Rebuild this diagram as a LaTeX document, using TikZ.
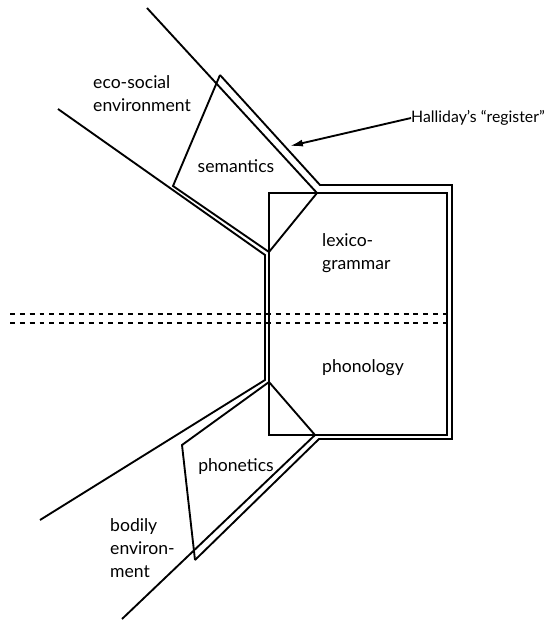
\documentclass[tikz,border=0pt]{standalone}
\usepackage{fontspec}
\setmainfont{Lato}
\usetikzlibrary{arrows.meta}
\begin{document}
\begin{tikzpicture}[x=0.03cm,y=-0.03cm, line join=miter,
  ln/.style={line width=1.6pt},
  thinln/.style={line width=1.1pt},
  dsh/.style={line width=1.7pt, dash pattern=on 4.2pt off 4.2pt},
  lbl/.style={font=\fontsize{15}{19.5}\selectfont, inner sep=0pt, align=left}]
\useasboundingbox (0,0) rectangle (549,621);
% key points
\coordinate (s1) at (147,8);
\coordinate (sR) at (317,193);
\coordinate (sT) at (220,75);
\coordinate (oTL) at (320,185);
\coordinate (oTR) at (452,185);
\coordinate (oBR) at (452,439);
\coordinate (oBL) at (319,439);
\coordinate (pB) at (195,560);
\coordinate (sL) at (173,186);
\coordinate (s2) at (58,109);
\coordinate (vT) at (265,255);
\coordinate (vB) at (265,380);
\coordinate (p1) at (40,520);
\coordinate (pT) at (182,445);
\coordinate (p2) at (122,619);
\coordinate (rTL) at (269,193);
\coordinate (rBR) at (447,435);
\coordinate (rL1) at (269,252);
\coordinate (rL2) at (269,382);
\coordinate (rB1) at (315,435);
\coordinate (d1a) at (10,314);
\coordinate (d1b) at (447,314);
\coordinate (d2a) at (10,323);
\coordinate (d2b) at (447,323);
\coordinate (tip) at (290,146);
% lines
\draw[ln] (s1) -- (sR);
\draw[ln] (sT) -- (oTL) -- (oTR) -- (oBR) -- (oBL) -- (pB);
\draw[ln] (sT) -- (sL) -- (rL1);
\draw[ln] (sR) -- (rL1);
\draw[ln] (s2) -- (vT) -- (vB) -- (p1);
\draw[ln] (pB) -- (pT) -- (rL2) -- (rB1);
\draw[ln] (p2) -- (rB1);
\draw[thinln] (rTL) rectangle (rBR);
\draw[dsh] (d1a) -- (d1b);
\draw[dsh] (d2a) -- (d2b);
% labels
\node[lbl, anchor=west] (eco) at (93,94) {eco-social\\environment};
\node[lbl] (sem) at (236,166) {semantics};
\node[lbl, anchor=west] (lex) at (322,253.5) {lexico-\\grammar};
\node[lbl, anchor=west] (pho) at (322,368) {phonology};
\node[lbl] (phn) at (236,467) {phonetics};
\node[lbl, anchor=west] (bod) at (110,548) {bodily\\environ-\\ment};
\node[lbl, anchor=west, font=\fontsize{13.5}{16}\selectfont] (hal) at (411,118) {Halliday’s “register”};
\draw[ln, -{Latex[length=11pt,width=6pt]}] (hal.west) -- (tip);
\end{tikzpicture}
\end{document}
